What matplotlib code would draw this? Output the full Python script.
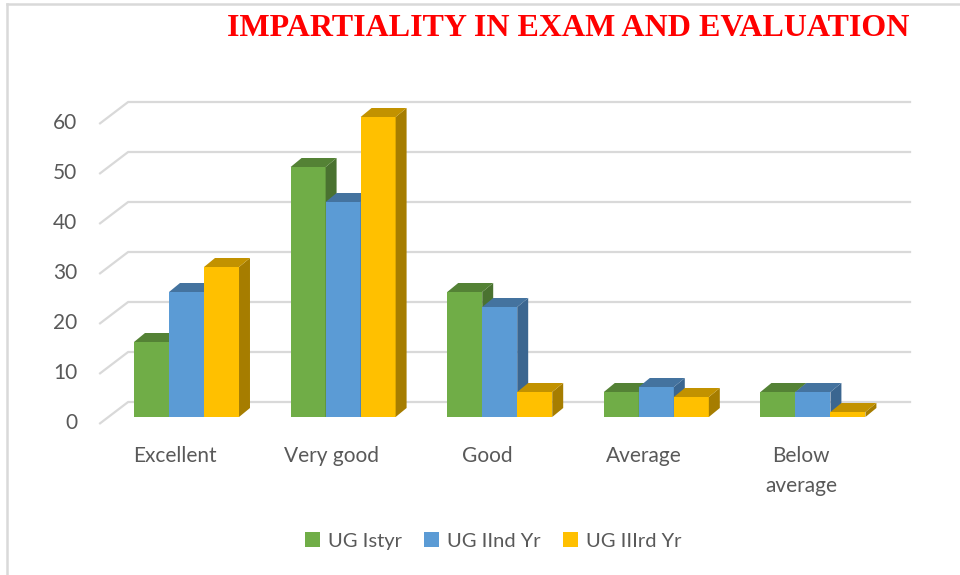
import matplotlib
matplotlib.use('Agg')
import matplotlib.pyplot as plt
from matplotlib.patches import Polygon, Patch
from matplotlib.lines import Line2D
import numpy as np

categories = ['Excellent', 'Very good', 'Good', 'Average', 'Below\naverage']
series_names = ['UG Istyr', 'UG IInd Yr', 'UG IIIrd Yr']
ug1 = [15, 50, 25, 5, 5]
ug2 = [25, 43, 22, 6, 5]
ug3 = [30, 60, 5, 4, 1]
yticks = [0, 10, 20, 30, 40, 50, 60]

front_cols = ['#70AD47', '#5B9BD5', '#FFC000']
top_cols = ['#548235', '#44739F', '#C29200']
side_cols = ['#4A7230', '#3B6690', '#A67D00']
grid_col = '#D9D9D9'
text_col = '#595959'

plt.rcParams['font.family'] = ['Lato', 'DejaVu Sans']

fig = plt.figure(figsize=(9.6, 5.75), dpi=100)
ax = fig.add_axes([0, 0, 1, 1])
ax.set_xlim(-1.191, 4.939)
ax.set_ylim(-31.6, 83.4)
ax.set_axis_off()

# depth offsets (category units, value units)
bar_dx, bar_dy = 0.070, 1.8
front_dx, front_dy = -0.0575, -1.4
back_dx, back_dy = 0.127, 3.0
x0, x1 = -0.5, 4.5

# back wall gridlines with the slanted floor/side edge
for v in yticks:
    ax.plot([x0 + front_dx, x0 + back_dx, x1 + back_dx],
            [v + front_dy, v + back_dy, v + back_dy],
            color=grid_col, lw=1.6, solid_capstyle='butt', zorder=1)
    ax.text(-0.699, v + front_dy + 0.2, str(v), ha='right', va='center',
            fontsize=15, color=text_col)

w = 0.2235
data = [ug1, ug2, ug3]
for i in range(len(categories)):
    for s in range(3):
        left = i + (s - 1.5) * w
        h = data[s][i]
        z = 3 + i * 3 + s
        ax.bar(left, h, width=w, align='edge', color=front_cols[s],
               edgecolor='none', zorder=z)
        top = [(left, h), (left + w, h), (left + w + bar_dx, h + bar_dy), (left + bar_dx, h + bar_dy)]
        side = [(left + w, 0), (left + w + bar_dx, bar_dy), (left + w + bar_dx, h + bar_dy), (left + w, h)]
        ax.add_patch(Polygon(side, closed=True, facecolor=side_cols[s], edgecolor='none', zorder=z))
        ax.add_patch(Polygon(top, closed=True, facecolor=top_cols[s], edgecolor='none', zorder=z))
    ax.text(i - 0.077, -5.8, categories[i], ha='center', va='top', fontsize=15,
            color=text_col, linespacing=1.6)

fig.text(568 / 960, 1 - 29 / 575, 'IMPARTIALITY IN EXAM AND EVALUATION', ha='center', va='center',
         fontsize=23, fontweight='bold', color='#FF0000', family='Liberation Serif')

handles = [Patch(facecolor=c, edgecolor='none') for c in front_cols]
fig.legend(handles, series_names, loc='center', bbox_to_anchor=(493 / 960, 1 - 541 / 575), ncol=3,
           frameon=False, fontsize=14.5, handlelength=0.75, handleheight=0.75, handletextpad=0.4,
           columnspacing=1.1, labelcolor=text_col)

# chart border (top and left)
fig.add_artist(Line2D([7 / 960, 1], [1 - 4 / 575, 1 - 4 / 575], transform=fig.transFigure, color=grid_col, lw=1.8))
fig.add_artist(Line2D([7 / 960, 7 / 960], [0, 1 - 4 / 575], transform=fig.transFigure, color=grid_col, lw=1.8))

fig.savefig('out.png', dpi=100)
